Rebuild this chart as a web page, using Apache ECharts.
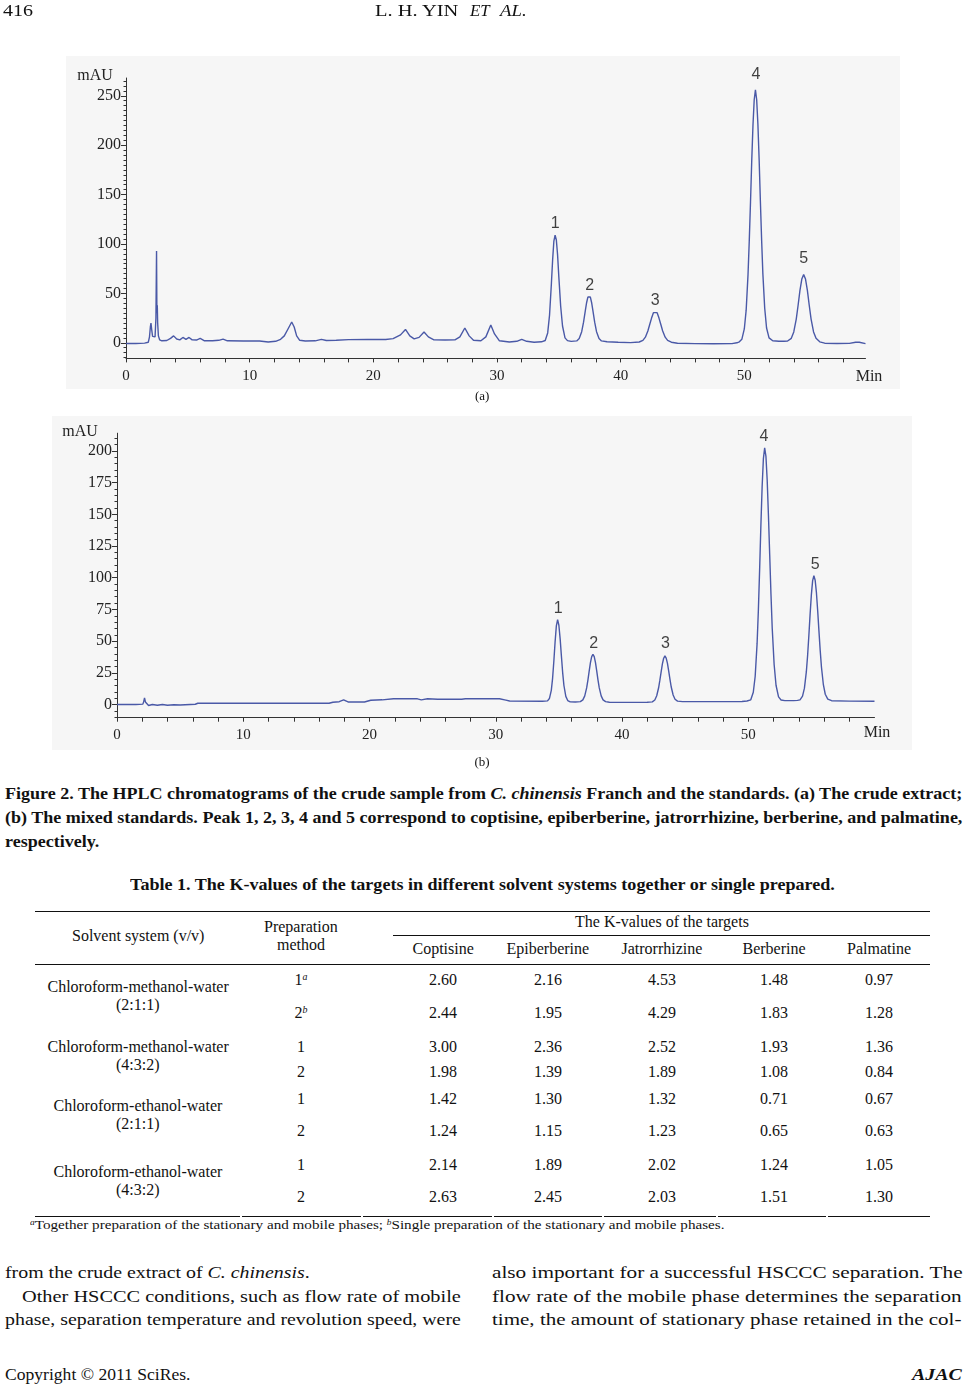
<!DOCTYPE html>
<html>
<head>
<meta charset="utf-8">
<script src="https://cdn.jsdelivr.net/npm/echarts@6/dist/echarts.min.js"></script>
<style>
html,body{margin:0;padding:0;background:#fff;}
#page{position:relative;width:965px;height:1386px;overflow:hidden;font-family:"Liberation Serif","Times New Roman",serif;color:#111;}
#chart{position:absolute;left:0;top:0;width:965px;height:780px;}
.t{position:absolute;white-space:nowrap;line-height:1;}
.t sup{font-size:0.62em;line-height:0;vertical-align:0.55em;font-style:italic;}
.rule{position:absolute;background:#111;}
</style>
</head>
<body>
<div id="page"><div id="chart"></div></div>
<script>
// ---------------- DATA ----------------
// (a) crude extract chromatogram: [time (min), absorbance (mAU)]
const chromA = [
[0,-0.7],[0.8,-0.7],[1.5,-0.3],[1.8,0.5],[1.9,6],[1.97,16],[2.02,20],[2.08,13],[2.15,6.5],[2.25,4.5],[2.35,6],[2.42,25],[2.47,93],[2.5,30],[2.53,38],[2.56,20],[2.62,7],[2.72,3],[2.9,2],[3.3,2.3],[3.6,4.5],[3.85,7],[4.1,3.8],[4.35,3],[4.6,5.4],[4.85,3.5],[5.1,5.4],[5.35,3],[5.7,2.8],[6.0,4.4],[6.35,2],[7.0,2],[7.5,2.5],[7.85,3.7],[8.2,2],[9.5,1.8],[10.8,1.8],[11.5,0.8],[12.1,1.5],[12.5,3.5],[12.8,7],[13.1,14],[13.4,21],[13.6,16],[13.8,7],[14.05,2.5],[14.5,1.8],[15.3,2],[15.8,3.5],[16.2,2.3],[17.0,2.5],[18.0,3.2],[19.5,3.3],[21.0,3.3],[21.6,4.2],[22.2,8],[22.6,13.5],[22.95,7],[23.3,4],[23.7,5.5],[24.1,11],[24.45,6],[24.9,3],[25.8,2.8],[26.6,3],[27.0,6],[27.4,15],[27.75,7],[28.1,2.5],[28.7,2],[29.1,6],[29.5,18],[29.8,9],[30.2,2],[31.0,0.8],[31.6,1.5],[32.0,3.5],[32.4,1.5],[33.0,0.5],[33.6,1],
[33.9,2.3],[34.1,10],[34.25,28],[34.4,60],[34.5,84],[34.6,103],[34.7,109],[34.8,104],[34.9,89],[35.0,67],[35.15,37],[35.3,17],[35.5,5],[35.7,2.2],[36.0,1.4],
[36.45,1.9],[36.65,4.3],[36.85,11.2],[37.0,20.9],[37.15,33.1],[37.25,40.8],[37.35,46.3],[37.45,48.3],[37.55,46.3],[37.65,40.8],[37.75,33.1],[37.9,20.9],[38.05,11.2],[38.25,4.3],[38.45,1.9],[38.9,1],[39.8,0.5],[40.8,0.2],[41.5,0.8],
[41.8,2.4],[42.0,5.7],[42.2,12],[42.35,18.5],[42.5,25],[42.65,30.5],[42.8,32.5],[42.95,30.5],[43.1,25],[43.25,18.5],[43.4,12],[43.6,5.7],[43.8,2.4],[44.1,0.6],[44.6,-0.4],[46.0,-0.8],[47.5,-1],[49.0,-0.8],[49.4,0],
[49.6,1],[49.8,3.5],[50.0,14],[50.15,33],[50.3,69],[50.4,103],[50.5,142],[50.6,184],[50.7,220],[50.8,246],[50.9,256],[51.0,246],[51.1,221],[51.2,185],[51.3,143],[51.4,104],[51.5,70],[51.65,35],[51.8,15],[52.0,5],[52.3,2],[52.8,1.6],[53.2,1.5],
[53.5,1.8],[53.8,4.5],[54.0,11],[54.2,24],[54.35,38],[54.5,53],[54.65,64.5],[54.8,69],[54.95,64.5],[55.1,53],[55.25,38],[55.4,24],[55.6,11],[55.8,4.5],[56.1,1],[56.5,-0.4],[57.5,-0.7],[58.5,-0.6],[59.0,0.5],[59.3,0.6],[59.8,-0.8]
];
// (b) mixed standards chromatogram
const chromB = [
[0,0],[1.5,0],[2.05,0.3],[2.12,2.5],[2.18,5.3],[2.25,2],[2.35,0.5],[2.5,-0.8],[2.8,0],[3.2,-0.6],[3.6,0],[4.0,-0.6],[4.5,-0.2],[5.0,-0.4],[5.8,0],[6.2,0.2],[6.4,1],[8.0,1],[12.0,1],[16.8,1],[17.1,1.8],[17.6,2.2],[17.95,3.7],[18.3,2],[19.6,2],[20.1,3.4],[21.0,3.7],[21.9,4.5],[23.8,4.5],[24.1,3.7],[24.6,4.5],[25.4,4.2],[27.3,4.2],[27.6,4.5],[30.3,4.5],[30.8,3.5],[31.1,2.8],[33.7,2.6],
[34.1,2.9],[34.25,4.7],[34.4,11.2],[34.5,20.4],[34.6,33.9],[34.7,49.3],[34.8,62],[34.9,67],[35.0,62.5],[35.1,52],[35.2,38.3],[35.3,25.2],[35.4,15],[35.55,6.4],[35.7,3.1],[35.9,2.1],[36.3,2],
[36.7,2.3],[36.9,3.7],[37.05,6.8],[37.2,13.1],[37.3,19.2],[37.4,26.3],[37.5,33],[37.6,37.8],[37.7,39.6],[37.8,37.8],[37.9,33],[38.0,26.3],[38.1,19.2],[38.2,13.1],[38.35,6.8],[38.5,3.7],[38.7,2.3],[39.0,1.8],[41.0,1.7],[42.0,1.8],
[42.4,2.1],[42.6,3.6],[42.75,6.9],[42.9,13.2],[43.0,19.2],[43.1,25.8],[43.2,32],[43.3,36.5],[43.4,38.3],[43.5,36.6],[43.6,32.5],[43.7,26.4],[43.8,19.8],[43.9,13.8],[44.05,7.5],[44.2,4.2],[44.4,2.7],[44.8,2.3],[47.0,2.3],[49.5,2.4],[49.9,2.8],
[50.2,3.7],[50.4,9.7],[50.55,22.3],[50.7,48],[50.8,74],[50.9,106],[51.0,141],[51.1,172],[51.2,194],[51.3,202.5],[51.4,196],[51.5,177],[51.6,149],[51.7,118],[51.8,87],[51.9,60],[52.05,31.6],[52.2,15.2],[52.4,6],[52.6,3.6],[52.9,3.1],[53.6,3.1],[53.9,3.3],
[54.1,3.7],[54.3,6.6],[54.45,12.9],[54.6,25.7],[54.7,38.5],[54.8,54.3],[54.9,71.3],[55.0,86.7],[55.1,97.7],[55.2,101.6],[55.3,98],[55.4,88.2],[55.5,74],[55.6,57.9],[55.7,42.5],[55.8,29.4],[55.95,15.6],[56.1,8.1],[56.3,4.2],[56.6,3],[58.0,2.7],[60.0,2.6]
];
// peak number labels (name, time, mAU at label)
const peakNames = ['1','2','3','4','5'];
const peakLabelTimeA = [34.7, 37.5, 42.8, 50.95, 54.8];
const peakLabelMauA = [121, 58, 43, 271, 85];
const peakLabelTimeB = [34.95, 37.75, 43.45, 51.25, 55.3];
const peakLabelMauB = [76, 48, 48, 211, 110];
// axis tick labels
const xTickLabels = [0, 10, 20, 30, 40, 50];
const yTickLabelsA = [0, 50, 100, 150, 200, 250];
const yTickLabelsB = [0, 25, 50, 75, 100, 125, 150, 175, 200];
// table
const solventSystems = ['Chloroform-methanol-water', 'Chloroform-methanol-water', 'Chloroform-ethanol-water', 'Chloroform-ethanol-water'];
const solventRatios = ['(2:1:1)', '(4:3:2)', '(2:1:1)', '(4:3:2)'];
const prepMethods = ['1', '2', '1', '2', '1', '2', '1', '2'];
const prepNotes = ['a', 'b', '', '', '', '', '', ''];
const targets = ['Coptisine', 'Epiberberine', 'Jatrorrhizine', 'Berberine', 'Palmatine'];
const kCoptisine = [2.60, 2.44, 3.00, 1.98, 1.42, 1.24, 2.14, 2.63];
const kEpiberberine = [2.16, 1.95, 2.36, 1.39, 1.30, 1.15, 1.89, 2.45];
const kJatrorrhizine = [4.53, 4.29, 2.52, 1.89, 1.32, 1.23, 2.02, 2.03];
const kBerberine = [1.48, 1.83, 1.93, 1.08, 0.71, 0.65, 1.24, 1.51];
const kPalmatine = [0.97, 1.28, 1.36, 0.84, 0.67, 0.63, 1.05, 1.30];

// ---------------- CHARTS ----------------
const LINE = '#4a59a7';
const AX = '#333';
const serif = 'Liberation Serif';
function range(a, b, s) { const r = []; for (let v = a; v <= b + 1e-9; v += s) r.push(v); return r; }

function xAxisDef(grid, max) {
  return {
    gridIndex: grid, type: 'value', min: 0, max: max,
    axisLine: { show: true, onZero: false, lineStyle: { color: AX, width: 1 } },
    axisTick: { show: true, length: 4, customValues: range(0, 58, 2), lineStyle: { color: AX } },
    axisLabel: { customValues: xTickLabels, margin: 10, fontFamily: serif, fontSize: 15, color: '#222' },
    splitLine: { show: false }
  };
}
function yMajor(grid, min, max, ticks) {
  return {
    gridIndex: grid, type: 'value', min: min, max: max, position: 'left',
    axisLine: { show: true, onZero: false, lineStyle: { color: AX, width: 1 } },
    axisTick: { show: true, length: 5, customValues: ticks, lineStyle: { color: AX } },
    axisLabel: { customValues: ticks, margin: 5, fontFamily: serif, fontSize: 16, color: '#222' },
    splitLine: { show: false }
  };
}
function yMinor(grid, min, max, ticks) {
  return {
    gridIndex: grid, type: 'value', min: min, max: max, position: 'left', offset: 0,
    axisLine: { show: false },
    axisTick: { show: true, length: 2.5, customValues: ticks, lineStyle: { color: AX } },
    axisLabel: { show: false },
    splitLine: { show: false }
  };
}
function labelSeries(xi, yi, times, maus) {
  return {
    type: 'scatter', xAxisIndex: xi, yAxisIndex: yi, clip: false, silent: true,
    symbolSize: 1, itemStyle: { color: 'rgba(0,0,0,0)' },
    data: peakNames.map((n, i) => ({ name: n, value: [times[i], maus[i]] })),
    label: { show: true, position: 'inside', formatter: '{b}', fontFamily: 'Liberation Sans', fontSize: 16, color: '#111' }
  };
}
function gText(t, x, y, size) {
  return { type: 'text', x: x, y: y, silent: true, style: { text: t, fontFamily: serif, fontSize: size, fill: '#222', align: 'center', verticalAlign: 'middle' } };
}

const chart = echarts.init(document.getElementById('chart'), null, { renderer: 'canvas' });
chart.setOption({
  animation: false,
  backgroundColor: '#fff',
  graphic: { elements: [
    { type: 'rect', z: -10, silent: true, shape: { x: 66, y: 56, width: 834, height: 333 }, style: { fill: '#f6f6f6' } },
    { type: 'rect', z: -10, silent: true, shape: { x: 52, y: 416, width: 860, height: 334 }, style: { fill: '#f6f6f6' } },
    gText('mAU', 95, 76, 16), gText('Min', 869, 377, 16),
    gText('mAU', 80, 432, 16), gText('Min', 877, 733, 16)
  ] },
  grid: [
    { left: 126, top: 78, width: 739.5, height: 280.4 },
    { left: 117, top: 433.2, width: 757.5, height: 284.5 }
  ],
  xAxis: [xAxisDef(0, 59.8), xAxisDef(1, 60)],
  yAxis: [
    yMajor(0, -15.8, 268, yTickLabelsA), yMinor(0, -15.8, 268, range(-15, 265, 5)),
    yMajor(1, -10.4, 214, yTickLabelsB), yMinor(1, -10.4, 214, range(-10, 210, 5))
  ],
  series: [
    { type: 'line', xAxisIndex: 0, yAxisIndex: 0, data: chromA, symbol: 'none', lineStyle: { color: LINE, width: 1.4 } },
    { type: 'line', xAxisIndex: 1, yAxisIndex: 2, data: chromB, symbol: 'none', lineStyle: { color: LINE, width: 1.4 } },
    labelSeries(0, 0, peakLabelTimeA, peakLabelMauA),
    labelSeries(1, 2, peakLabelTimeB, peakLabelMauB)
  ]
});

// ---------------- PAGE TEXT ----------------
const page = document.getElementById('page');
function addText(html, x, yc, fs, o) {
  o = o || {};
  const d = document.createElement('div');
  d.className = 't';
  d.innerHTML = html;
  d.style.fontSize = fs + 'px';
  if (o.bold) d.style.fontWeight = 'bold';
  if (o.italic) d.style.fontStyle = 'italic';
  page.appendChild(d);
  const w = d.offsetWidth;
  let s = o.scale || 1;
  if (o.fit) s = o.fit / w;
  const ww = w * s;
  let left = x;
  if (o.align === 'center') left = x - ww / 2;
  else if (o.align === 'right') left = x - ww;
  if (s !== 1) { d.style.transformOrigin = '0 0'; d.style.transform = 'scaleX(' + s + ')'; }
  d.style.left = left + 'px';
  d.style.top = (yc - 0.55 * fs) + 'px';
  return s;
}
function rule(x1, x2, y, h) {
  const r = document.createElement('div');
  r.className = 'rule';
  r.style.left = x1 + 'px'; r.style.width = (x2 - x1) + 'px';
  r.style.top = y + 'px'; r.style.height = (h || 1) + 'px';
  page.appendChild(r);
}

// header
addText('416', 3, 12, 16, { fit: 30 });
addText('L. H. YIN', 375, 12, 16, { fit: 83 });
addText('ET', 470, 12, 16, { italic: true, fit: 20 });
addText('AL.', 500, 12, 16, { italic: true, fit: 27 });

addText('(a)', 482, 396, 13, { align: 'center' });
addText('(b)', 482, 762, 13, { align: 'center' });

// figure caption
const cs = addText('Figure 2. The HPLC chromatograms of the crude sample from <i>C. chinensis</i> Franch and the standards. (a) The crude extract;', 5, 794, 17, { bold: true, fit: 957 });
addText('(b) The mixed standards. Peak 1, 2, 3, 4 and 5 correspond to coptisine, epiberberine, jatrorrhizine, berberine, and palmatine,', 5, 818, 17, { bold: true, fit: 957 });
addText('respectively.', 5, 842, 17, { bold: true, scale: cs });

// table
addText('Table 1. The K-values of the targets in different solvent systems together or single prepared.', 130, 886, 16.5, { bold: true, fit: 705 });
rule(35, 930, 911, 1.4);
rule(393, 930, 935, 1);
rule(35, 930, 964, 1.4);
[[35, 240], [242, 361], [363, 492], [494, 602], [604, 716], [718, 826], [828, 930]].forEach(s => rule(s[0], s[1], 1216, 1.4));

const solventX = 138, prepX = 301;
const colX = [443, 548, 662, 774, 879];
addText('Solvent system (v/v)', solventX, 937, 16, { align: 'center' });
addText('Preparation', prepX, 928, 16, { align: 'center' });
addText('method', prepX, 946, 16, { align: 'center' });
addText('The K-values of the targets', 662, 923, 16, { align: 'center' });
targets.forEach((t, i) => addText(t, colX[i], 950, 16, { align: 'center' }));

const rowY = [981, 1014, 1048, 1073, 1100, 1132, 1166, 1198];
const solventY = [[988, 1006], [1048, 1066], [1107, 1125], [1173, 1191]];
solventSystems.forEach((s, i) => {
  addText(s, solventX, solventY[i][0], 16, { align: 'center' });
  addText(solventRatios[i], solventX, solventY[i][1], 16, { align: 'center' });
});
const kCols = [kCoptisine, kEpiberberine, kJatrorrhizine, kBerberine, kPalmatine];
rowY.forEach((y, r) => {
  addText(prepMethods[r] + (prepNotes[r] ? '<sup>' + prepNotes[r] + '</sup>' : ''), prepX, y, 16, { align: 'center' });
  kCols.forEach((col, c) => addText(col[r].toFixed(2), colX[c], y, 16, { align: 'center' }));
});
addText('<sup>a</sup>Together preparation of the stationary and mobile phases; <sup>b</sup>Single preparation of the stationary and mobile phases.', 30, 1226, 12.5, { fit: 694 });

// body text
const bs = addText('phase, separation temperature and revolution speed, were', 5, 1320, 17, { fit: 456 });
addText('from the crude extract of <i>C. chinensis</i>.', 5, 1273, 17, { scale: bs });
addText('Other HSCCC conditions, such as flow rate of mobile', 22, 1297, 17, { fit: 439 });
addText('also important for a successful HSCCC separation. The', 492, 1273, 17, { fit: 470 });
addText('flow rate of the mobile phase determines the separation', 492, 1297, 17, { fit: 470 });
addText('time, the amount of stationary phase retained in the col-', 492, 1320, 17, { fit: 470 });

// footer
addText('Copyright \u00A9 2011 SciRes.', 5, 1375, 17, { fit: 185 });
addText('AJAC', 962, 1375, 17, { bold: true, italic: true, align: 'right', scale: bs });
</script>
</body>
</html>
